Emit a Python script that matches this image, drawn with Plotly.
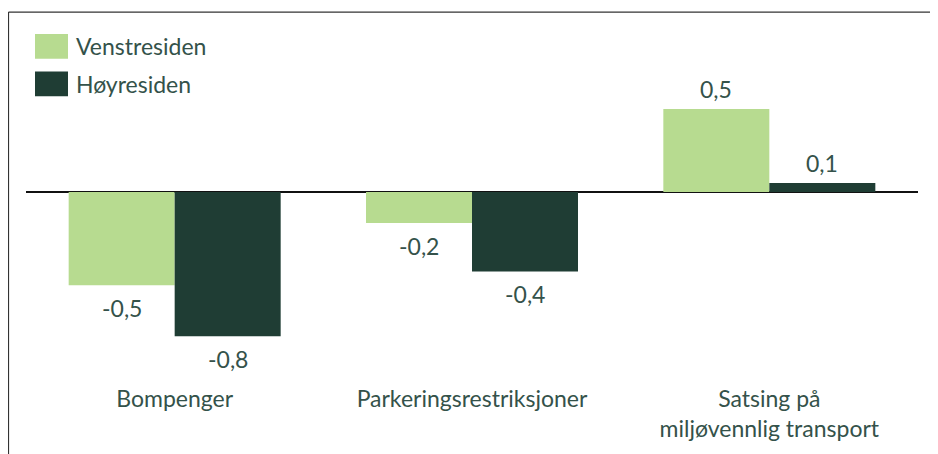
import plotly.graph_objects as go

categories = ["Bompenger", "Parkeringsrestriksjoner", "Satsing på<br>miljøvennlig transport"]
venstre = [-0.51, -0.17, 0.455]
hoyre = [-0.79, -0.435, 0.05]
venstre_labels = ["-0,5", "-0,2", "0,5"]
hoyre_labels = ["-0,8", "-0,4", "0,1"]
series_names = ["Venstresiden", "Høyresiden"]

LIGHT = "#B7DB90"
DARK = "#1F3D34"
TEXT = "#34524A"
FONT = "Lato"
FS = 23

# page body has an 8px margin: figure is placed at (8, 8) in the window
OFF = 8
W, H = 938 - OFF, 454 - OFF
# plot area in window coords: x 26..918, y 20..386
ML = 26 - OFF
MR = W - (918 - OFF)
MT = 20 - OFF
MB = H - (386 - OFF)
PW, PH = W - ML - MR, H - MT - MB


def px_x(x):
    """window px -> paper"""
    return (x - OFF - ML) / PW


def px_y(y):
    """window px -> paper"""
    return (H - MB - (y - OFF)) / PH


fig = go.Figure()
fig.add_trace(go.Bar(x=categories, y=venstre, name=series_names[0],
                     marker=dict(color=LIGHT, line=dict(width=0)), showlegend=False))
fig.add_trace(go.Bar(x=categories, y=hoyre, name=series_names[1],
                     marker=dict(color=DARK, line=dict(width=0)), showlegend=False))

annotations = []
for vals, labels, shift in ((venstre, venstre_labels, -53), (hoyre, hoyre_labels, 53)):
    for c, v, t in zip(categories, vals, labels):
        annotations.append(dict(
            x=c, y=v, xref="x", yref="y", text=t, showarrow=False,
            xshift=shift, yshift=(-7 if v < 0 else 4),
            yanchor=("top" if v < 0 else "bottom"),
            font=dict(family=FONT, size=FS, color=TEXT)))

# manual legend
legend_items = [(series_names[0], LIGHT, 34, 59), (series_names[1], DARK, 72, 97)]
shapes = []
for name, col, y0, y1 in legend_items:
    shapes.append(dict(type="rect", xref="paper", yref="paper",
                       x0=px_x(35), x1=px_x(68), y0=px_y(y1), y1=px_y(y0),
                       fillcolor=col, line=dict(width=0)))
    annotations.append(dict(x=px_x(74), y=px_y((y0 + y1) / 2), xref="paper", yref="paper",
                            xanchor="left", yanchor="middle", text=name, showarrow=False,
                            font=dict(family=FONT, size=FS, color=TEXT)))

# frame (top + left)
shapes.append(dict(type="line", xref="paper", yref="paper",
                   x0=px_x(8.5), x1=px_x(945), y0=px_y(12), y1=px_y(12),
                   line=dict(color="#333333", width=1.2)))
shapes.append(dict(type="line", xref="paper", yref="paper",
                   x0=px_x(8.5), x1=px_x(8.5), y0=px_y(12), y1=px_y(470),
                   line=dict(color="#333333", width=1.2)))

scale = 184.0
zero_px = 193.5 - OFF
y_top = (zero_px - MT) / scale
y_bot = -((H - MB) - zero_px) / scale

fig.update_layout(
    width=W, height=H,
    margin=dict(l=ML, r=MR, t=MT, b=MB, pad=0),
    paper_bgcolor="white", plot_bgcolor="white",
    barmode="group", bargap=0.287, bargroupgap=0,
    font=dict(family=FONT, size=FS, color=TEXT),
    xaxis=dict(showline=False, showgrid=False, ticks="", zeroline=False,
               tickfont=dict(family=FONT, size=FS, color=TEXT)),
    yaxis=dict(range=[y_bot, y_top], showticklabels=False, showgrid=False,
               zeroline=True, zerolinecolor="#111111", zerolinewidth=1.5,
               showline=False, ticks=""),
    shapes=shapes, annotations=annotations,
)

fig.write_html("out.html")
